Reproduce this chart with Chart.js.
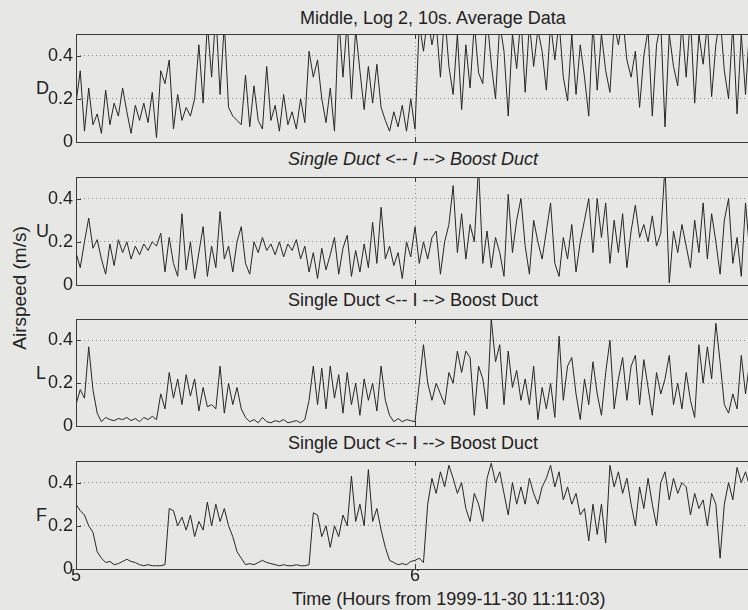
<!DOCTYPE html>
<html lang="en">
<head>
    <meta charset="UTF-8">
    <title>Middle, Log 2, 10s. Average Data</title>
    <script src="https://cdn.jsdelivr.net/npm/chart.js@4.4.1/dist/chart.umd.min.js"></script>
    <style>
        html, body {
            margin: 0;
            padding: 0;
            background: #e7e7e5;
        }
        .page {
            position: relative;
            width: 748px;
            height: 610px;
            overflow: hidden;
            font-family: 'Liberation Sans', Arial, sans-serif;
            color: #222;
        }
        .page canvas { position: absolute; left: 0; }
        .txt {
            position: absolute;
            white-space: nowrap;
            line-height: 1;
            font-size: 18px;
        }
        .title { left: 300px; top: 9px; }
        .sub { left: 288px; }
        .sub.it { font-style: italic; }
        .xlab { left: 292px; top: 590px; }
        .ylab {
            font-size: 19px;
            left: 19px; top: 288px;
            transform: translate(-50%, -50%) rotate(-90deg);
        }
        .chan { left: 36px; }
    </style>
</head>
<body>
<div class="page">
    <div class="txt title">Middle, Log 2, 10s. Average Data</div>
    <div class="txt sub it" style="top:150px">Single Duct &lt;-- I --&gt; Boost Duct</div>
    <div class="txt sub" style="top:291px">Single Duct &lt;-- I --&gt; Boost Duct</div>
    <div class="txt sub" style="top:434px">Single Duct &lt;-- I --&gt; Boost Duct</div>
    <div class="txt xlab">Time (Hours from 1999-11-30 11:11:03)</div>
    <div class="txt ylab">Airspeed (m/s)</div>
    <div class="txt chan" style="top:79px">D</div>
    <div class="txt chan" style="top:222px">U</div>
    <div class="txt chan" style="top:364px">L</div>
    <div class="txt chan" style="top:506px">F</div>

    <canvas id="cD" width="754" height="148" style="top:14px"></canvas>
    <canvas id="cU" width="754" height="148" style="top:157px"></canvas>
    <canvas id="cL" width="754" height="147" style="top:299px"></canvas>
    <canvas id="cF" width="754" height="152" style="top:441px"></canvas>
</div>

<script>
// time grid: 10 s averages resampled every 45 s, hours from 1999-11-30 11:11:03
const tStart = 5;
const tStep = 0.0125;
const xTicks = [5, 6, 7];
const yTicks = [0, 0.2, 0.4];

const dVals = [
    0.18, 0.33, 0.05, 0.25, 0.08, 0.13, 0.04, 0.24, 0.08, 0.18,
    0.12, 0.25, 0.14, 0.04, 0.17, 0.10, 0.18, 0.09, 0.23, 0.02,
    0.33, 0.27, 0.38, 0.06, 0.22, 0.10, 0.16, 0.12, 0.20, 0.45,
    0.18, 0.55, 0.30, 0.60, 0.22, 0.55, 0.16, 0.12, 0.10, 0.08,
    0.31, 0.07, 0.26, 0.10, 0.06, 0.35, 0.10, 0.17, 0.05, 0.22,
    0.08, 0.14, 0.06, 0.20, 0.09, 0.42, 0.30, 0.38, 0.20, 0.09,
    0.25, 0.05, 0.58, 0.30, 0.56, 0.20, 0.52, 0.33, 0.15, 0.35,
    0.18, 0.36, 0.16, 0.10, 0.05, 0.14, 0.07, 0.17, 0.05, 0.20,
    0.06, 0.55, 0.42, 0.58, 0.45, 0.55, 0.30, 0.60, 0.35, 0.22,
    0.50, 0.15, 0.45, 0.25, 0.55, 0.32, 0.27, 0.58, 0.36, 0.20,
    0.55, 0.42, 0.12, 0.50, 0.34, 0.58, 0.23, 0.55, 0.35, 0.52,
    0.42, 0.24, 0.55, 0.38, 0.56, 0.30, 0.19, 0.50, 0.22, 0.45,
    0.30, 0.12, 0.55, 0.24, 0.50, 0.33, 0.23, 0.55, 0.45, 0.58,
    0.38, 0.30, 0.42, 0.16, 0.40, 0.52, 0.12, 0.45, 0.55, 0.07,
    0.50, 0.35, 0.26, 0.55, 0.30, 0.58, 0.18, 0.50, 0.36, 0.55,
    0.21, 0.45, 0.58, 0.33, 0.20, 0.55, 0.13, 0.50, 0.22, 0.55
];

const uVals = [
    0.15, 0.08, 0.20, 0.31, 0.17, 0.21, 0.12, 0.05, 0.19, 0.09,
    0.21, 0.15, 0.20, 0.12, 0.18, 0.14, 0.19, 0.16, 0.20, 0.18,
    0.24, 0.06, 0.22, 0.10, 0.04, 0.33, 0.07, 0.20, 0.03, 0.15,
    0.27, 0.04, 0.18, 0.08, 0.34, 0.12, 0.18, 0.06, 0.20, 0.27,
    0.10, 0.05, 0.20, 0.15, 0.22, 0.16, 0.19, 0.14, 0.20, 0.13,
    0.19, 0.16, 0.21, 0.12, 0.18, 0.06, 0.15, 0.03, 0.17, 0.07,
    0.14, 0.22, 0.05, 0.17, 0.23, 0.04, 0.16, 0.06, 0.19, 0.08,
    0.29, 0.10, 0.36, 0.12, 0.18, 0.09, 0.15, 0.03, 0.20, 0.13,
    0.27, 0.10, 0.20, 0.12, 0.22, 0.25, 0.05, 0.20, 0.28, 0.46,
    0.15, 0.33, 0.12, 0.28, 0.20, 0.55, 0.10, 0.25, 0.08, 0.22,
    0.15, 0.04, 0.42, 0.15, 0.30, 0.40, 0.18, 0.05, 0.30, 0.20,
    0.12, 0.25, 0.38, 0.10, 0.04, 0.22, 0.12, 0.28, 0.06, 0.20,
    0.30, 0.40, 0.15, 0.40, 0.22, 0.38, 0.10, 0.30, 0.15, 0.33,
    0.08, 0.25, 0.37, 0.22, 0.28, 0.20, 0.32, 0.18, 0.24, 0.55,
    0.01, 0.25, 0.15, 0.28, 0.18, 0.08, 0.30, 0.15, 0.38, 0.12,
    0.33, 0.20, 0.05, 0.30, 0.40, 0.10, 0.22, 0.04, 0.38, 0.15
];

const lVals = [
    0.10, 0.17, 0.13, 0.37, 0.17, 0.06, 0.02, 0.04, 0.03, 0.025,
    0.035, 0.03, 0.04, 0.025, 0.035, 0.02, 0.04, 0.03, 0.045, 0.03,
    0.15, 0.08, 0.25, 0.13, 0.22, 0.10, 0.24, 0.14, 0.22, 0.07,
    0.18, 0.09, 0.10, 0.08, 0.28, 0.06, 0.20, 0.10, 0.18, 0.08,
    0.04, 0.02, 0.03, 0.015, 0.04, 0.02, 0.015, 0.025, 0.02, 0.03,
    0.015, 0.02, 0.025, 0.015, 0.03, 0.12, 0.28, 0.10, 0.27, 0.08,
    0.28, 0.13, 0.24, 0.06, 0.25, 0.10, 0.20, 0.05, 0.22, 0.12,
    0.20, 0.07, 0.28, 0.12, 0.05, 0.02, 0.035, 0.02, 0.03, 0.025,
    0.02, 0.20, 0.38, 0.20, 0.12, 0.20, 0.15, 0.10, 0.25, 0.20,
    0.35, 0.25, 0.35, 0.32, 0.05, 0.28, 0.22, 0.08, 0.50, 0.30,
    0.38, 0.10, 0.35, 0.18, 0.26, 0.12, 0.22, 0.10, 0.28, 0.03,
    0.18, 0.08, 0.20, 0.04, 0.42, 0.12, 0.28, 0.32, 0.15, 0.03,
    0.22, 0.10, 0.30, 0.15, 0.05, 0.25, 0.40, 0.08, 0.22, 0.32,
    0.12, 0.28, 0.33, 0.10, 0.31, 0.18, 0.05, 0.25, 0.15, 0.22,
    0.33, 0.10, 0.20, 0.08, 0.25, 0.12, 0.04, 0.38, 0.20, 0.37,
    0.22, 0.48, 0.30, 0.10, 0.06, 0.15, 0.08, 0.33, 0.15, 0.30
];

const fVals = [
    0.30, 0.27, 0.25, 0.20, 0.17, 0.08, 0.05, 0.03, 0.035, 0.02,
    0.025, 0.035, 0.045, 0.035, 0.03, 0.02, 0.015, 0.02, 0.015, 0.015,
    0.015, 0.02, 0.28, 0.27, 0.20, 0.24, 0.18, 0.25, 0.15, 0.22,
    0.18, 0.31, 0.20, 0.30, 0.22, 0.28, 0.20, 0.15, 0.08, 0.05,
    0.02, 0.025, 0.02, 0.03, 0.04, 0.03, 0.025, 0.02, 0.015, 0.02,
    0.015, 0.015, 0.02, 0.015, 0.015, 0.02, 0.26, 0.25, 0.15, 0.20,
    0.10, 0.20, 0.15, 0.25, 0.20, 0.43, 0.22, 0.30, 0.20, 0.46,
    0.22, 0.28, 0.18, 0.10, 0.04, 0.03, 0.02, 0.025, 0.02, 0.035,
    0.04, 0.05, 0.03, 0.30, 0.42, 0.35, 0.45, 0.38, 0.48, 0.42,
    0.35, 0.40, 0.28, 0.22, 0.35, 0.30, 0.22, 0.42, 0.49, 0.40,
    0.45, 0.35, 0.25, 0.40, 0.30, 0.38, 0.30, 0.42, 0.35, 0.30,
    0.38, 0.42, 0.48, 0.38, 0.45, 0.32, 0.38, 0.30, 0.35, 0.25,
    0.28, 0.13, 0.30, 0.16, 0.30, 0.12, 0.48, 0.38, 0.45, 0.35,
    0.42, 0.30, 0.20, 0.38, 0.28, 0.42, 0.30, 0.20, 0.40, 0.45,
    0.32, 0.42, 0.35, 0.40, 0.38, 0.25, 0.35, 0.28, 0.32, 0.20,
    0.35, 0.30, 0.05, 0.30, 0.40, 0.32, 0.47, 0.40, 0.45, 0.38
];

const times = dVals.map((_, i) => tStart + i * tStep);

// plot frame + inward tick marks, MATLAB style
const framePlugin = {
    id: 'frame',
    afterDatasetsDraw(chart) {
        const { ctx, chartArea: a, scales } = chart;
        ctx.save();
        ctx.strokeStyle = '#3a3a3a';
        ctx.lineWidth = 1;
        ctx.strokeRect(a.left + 0.5, a.top + 0.5, a.right - a.left, a.bottom - a.top);
        ctx.beginPath();
        yTicks.forEach(v => {
            const y = Math.round(scales.y.getPixelForValue(v)) + 0.5;
            ctx.moveTo(a.left, y);
            ctx.lineTo(a.left + 5, y);
        });
        xTicks.forEach(v => {
            const x = Math.round(scales.x.getPixelForValue(v)) + 0.5;
            ctx.moveTo(x, a.bottom);
            ctx.lineTo(x, a.bottom - 5);
            ctx.moveTo(x, a.top);
            ctx.lineTo(x, a.top + 5);
        });
        ctx.stroke();
        ctx.restore();
    }
};

function makePanel(id, values, showX) {
    new Chart(document.getElementById(id), {
        type: 'line',
        data: {
            datasets: [{
                data: values.map((v, i) => ({ x: times[i], y: v })),
                borderColor: '#262626',
                borderWidth: 1,
                pointRadius: 0,
                tension: 0
            }]
        },
        options: {
            responsive: false,
            animation: false,
            events: [],
            layout: { padding: { top: 20, bottom: showX ? 0 : 20, left: 0, right: 0 } },
            plugins: { legend: { display: false }, tooltip: { enabled: false } },
            scales: {
                x: {
                    type: 'linear',
                    min: 5,
                    max: 7,
                    afterBuildTicks: s => { s.ticks = xTicks.map(v => ({ value: v })); },
                    afterFit: s => { s.height = showX ? 24 : 0; },
                    border: { display: false, dash: [1, 3] },
                    grid: {
                        drawTicks: false,
                        color: c => c.tick && c.tick.value === 6 ? '#8c8c8c' : 'rgba(0,0,0,0)'
                    },
                    ticks: {
                        display: showX,
                        autoSkip: false,
                        maxRotation: 0,
                        padding: -4,
                        color: '#222',
                        font: { family: 'Liberation Sans', size: 18 },
                        callback: v => (v === 7 ? '' : String(v))
                    }
                },
                y: {
                    min: 0,
                    max: 0.5,
                    afterBuildTicks: s => { s.ticks = yTicks.map(v => ({ value: v })); },
                    afterFit: s => { s.width = 76; },
                    border: { display: false, dash: [1, 3] },
                    grid: {
                        drawTicks: false,
                        color: c => c.tick && c.tick.value > 0 ? '#8c8c8c' : 'rgba(0,0,0,0)'
                    },
                    ticks: {
                        padding: 3,
                        color: '#222',
                        font: { family: 'Liberation Sans', size: 18 },
                        callback: v => String(v)
                    }
                }
            }
        },
        plugins: [framePlugin]
    });
}

makePanel('cD', dVals, false);
makePanel('cU', uVals, false);
makePanel('cL', lVals, false);
makePanel('cF', fVals, true);
</script>
</body>
</html>
